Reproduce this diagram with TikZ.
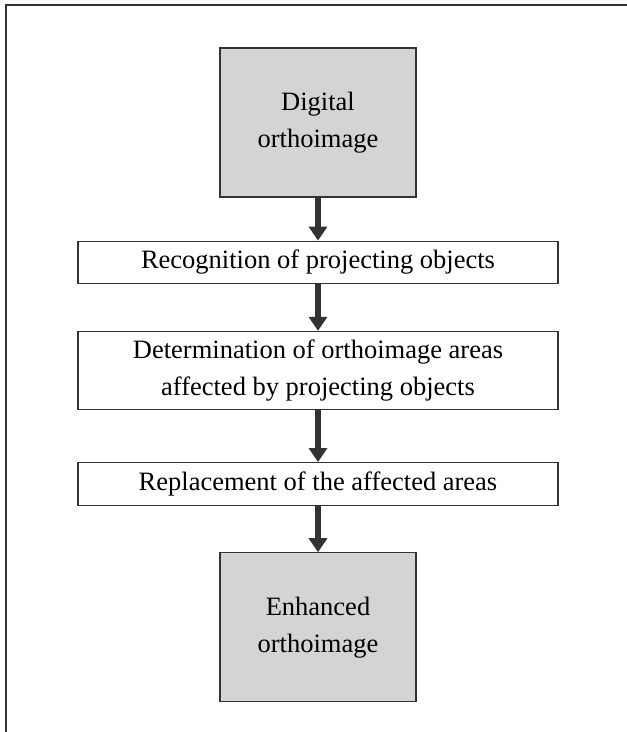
\documentclass[tikz,border=0pt]{standalone}
\usepackage{fontspec}
\setmainfont{Liberation Serif}
\usetikzlibrary{positioning,arrows.meta}

\begin{document}
\begin{tikzpicture}[x=1pt, y=-1pt,
    box/.style={draw=black!80, line width=1.2pt, inner sep=0pt, align=center, font=\fontsize{26.5}{37}\selectfont},
    shaded/.style={box, fill=black!17, minimum width=196pt, minimum height=149pt},
    wide/.style={box, minimum width=480pt},
    flow/.style={draw=black!80, line width=6pt, -{Triangle[width=18pt,length=14pt]}}]
    \useasboundingbox (0,0) rectangle (627,732);
    \draw[black!80, line width=1.2pt] (6,732) -- (6,5) -- (627,5);

    \node[shaded] (digital) at (318,122.5) {Digital\\orthoimage};
    \node[wide, minimum height=42pt, below = 43pt of digital] (recog) {Recognition of projecting objects};
    \node[wide, minimum height=78pt, below = 47pt of recog] (determ) {Determination of orthoimage areas\\affected by projecting objects};
    \node[wide, minimum height=43pt, below = 52pt of determ] (replace) {Replacement of the affected areas};
    \node[shaded, below = 46pt of replace] (enhanced) {Enhanced\\orthoimage};

    \draw[flow] (digital) -- (recog);
    \draw[flow] (recog) -- (determ);
    \draw[flow] (determ) -- (replace);
    \draw[flow] (replace) -- (enhanced);
\end{tikzpicture}
\end{document}
